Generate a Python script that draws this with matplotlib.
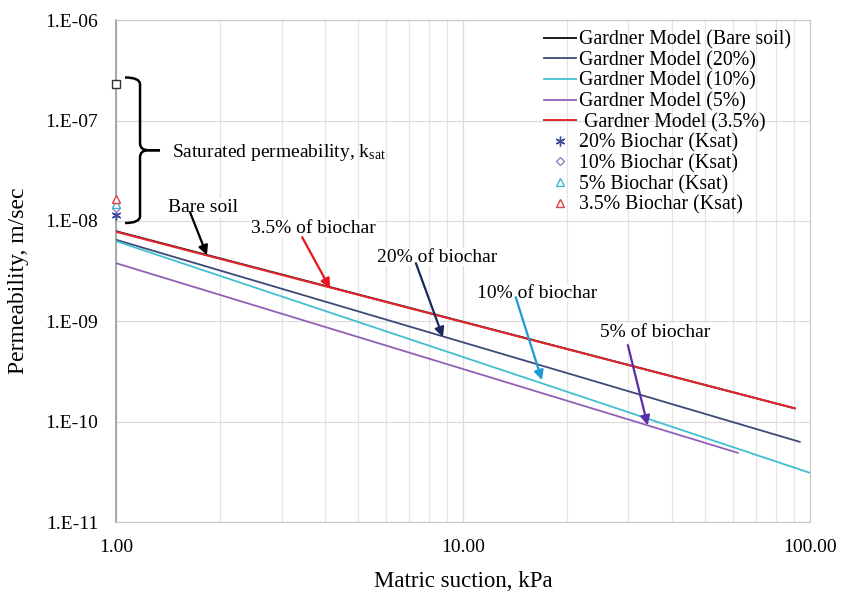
import matplotlib
matplotlib.use("Agg")
import matplotlib.pyplot as plt
from matplotlib.path import Path
from matplotlib.patches import PathPatch
from matplotlib.ticker import FixedLocator, LogLocator, NullFormatter

plt.rcParams['font.family'] = ['Liberation Serif', 'DejaVu Serif']
plt.rcParams['mathtext.fontset'] = 'stix'

# Gardner model lines (endpoints on log-log straight lines)
suction_bare = [1.0, 90.5]
perm_bare = [7.9e-9, 1.36e-10]
suction_20 = [1.0, 93.6]
perm_20 = [6.5e-9, 6.3e-11]
suction_10 = [1.0, 100.0]
perm_10 = [6.3e-9, 3.1e-11]
suction_5 = [1.0, 62.0]
perm_5 = [3.8e-9, 4.9e-11]
suction_35 = [1.0, 90.5]
perm_35 = [7.8e-9, 1.36e-10]

# Saturated permeability points at suction = 1 kPa
ksat_x = 1.0
ksat_bare = 2.3e-7
ksat_20 = 1.14e-8
ksat_10 = 1.34e-8
ksat_5 = 1.47e-8
ksat_35 = 1.65e-8

yticks = [1e-11, 1e-10, 1e-9, 1e-8, 1e-7, 1e-6]
ytick_labels = ['1.E-11', '1.E-10', '1.E-09', '1.E-08', '1.E-07', '1.E-06']
xticks = [1, 10, 100]
xtick_labels = ['1.00', '10.00', '100.00']

fig = plt.figure(figsize=(8.47, 5.96), dpi=100)
ax = fig.add_axes([0.137, 0.124, 0.819, 0.842])
ax.set_xscale('log')
ax.set_yscale('log')
ax.set_xlim(1, 100)
ax.set_ylim(1e-11, 1e-6)

c_bare = '#1a1a1a'
c_20 = '#3d4a78'
c_10 = '#3fc1d3'
c_5 = '#9160b8'
c_35 = '#e8252a'

ax.plot(suction_bare, perm_bare, color=c_bare, lw=1.4, label='Gardner Model (Bare soil)', zorder=3)
ax.plot(suction_20, perm_20, color=c_20, lw=1.3, label='Gardner Model (20%)', zorder=3)
ax.plot(suction_10, perm_10, color=c_10, lw=1.3, label='Gardner Model (10%)', zorder=3)
ax.plot(suction_5, perm_5, color=c_5, lw=1.3, label='Gardner Model (5%)', zorder=3)
ax.plot(suction_35, perm_35, color=c_35, lw=1.4, label=' Gardner Model (3.5%)', zorder=3.1)

ax.plot([ksat_x], [ksat_bare], ls='none', marker='s', mfc='white', mec='#333333', ms=6, mew=1, zorder=4, clip_on=False)
ax.plot([ksat_x], [ksat_20], ls='none', marker=(6, 2, 0), color='#3d4a9a', ms=7, mew=1, label='20% Biochar (Ksat)', zorder=4, clip_on=False)
ax.plot([ksat_x], [ksat_10], ls='none', marker='D', mfc='white', mec='#9d7cc2', ms=4.5, mew=1, label='10% Biochar (Ksat)', zorder=4, clip_on=False)
ax.plot([ksat_x], [ksat_5], ls='none', marker='^', mfc='white', mec='#3fb6cc', ms=6, mew=1, label='5% Biochar (Ksat)', zorder=4, clip_on=False)
ax.plot([ksat_x], [ksat_35], ls='none', marker='^', mfc='white', mec='#e04040', ms=6, mew=1, label='3.5% Biochar (Ksat)', zorder=4, clip_on=False)

# ticks and grid
ax.yaxis.set_major_locator(FixedLocator(yticks))
ax.yaxis.set_minor_locator(FixedLocator([]))
ax.set_yticklabels(ytick_labels)
ax.xaxis.set_major_locator(FixedLocator(xticks))
ax.xaxis.set_minor_locator(LogLocator(base=10, subs=range(2, 10)))
ax.xaxis.set_minor_formatter(NullFormatter())
ax.set_xticklabels(xtick_labels)
ax.tick_params(axis='both', which='both', length=0, labelsize=14)
ax.tick_params(axis='x', pad=12)
ax.tick_params(axis='y', pad=13)
ax.grid(True, which='major', color='#dcdcdc', lw=0.9)
ax.grid(True, which='minor', axis='x', color='#e4e4e4', lw=0.9)
ax.set_axisbelow(True)
for s in ax.spines.values():
    s.set_color('#c8c8c8')
ax.spines['left'].set_color('#9a9a9a')
ax.spines['left'].set_linewidth(1.2)

ax.set_xlabel('Matric suction, kPa', fontsize=16.5)
ax.xaxis.set_label_coords(0.5, -0.098)
ax.set_ylabel('Permeability, m/sec', fontsize=17)
ax.yaxis.set_label_coords(-0.126, 0.48)

leg = ax.legend(loc='upper right', bbox_to_anchor=(0.973, 0.98), frameon=False, fontsize=14.3,
                handlelength=1.6, handletextpad=0.15, labelspacing=0.07, borderaxespad=0.0,
                borderpad=0.0)

# brace (axes-fraction geometry)
bx0, bx1, bx2 = 0.013, 0.0346, 0.0634
ytop, ymid, ybot = 0.886, 0.741, 0.596
r = 0.014
codes = [Path.MOVETO, Path.CURVE3, Path.CURVE3, Path.LINETO, Path.CURVE3, Path.CURVE3, Path.LINETO]
for yend, sgn in ((ytop, -1), (ybot, 1)):
    verts = [
        (bx0, yend), (bx1, yend), (bx1, yend + sgn * r),
        (bx1, ymid - sgn * r), (bx1, ymid), (bx1 + 0.012, ymid), (bx2, ymid),
    ]
    ax.add_patch(PathPatch(Path(verts, codes), transform=ax.transAxes, fill=False,
                           lw=1.8, edgecolor='black', capstyle='butt', clip_on=False))

ax.text(1.45, 4.8e-8, 'Saturated permeability, k$_{\\mathregular{sat}}$', fontsize=14, va='center', ha='left')

# annotations: (text, text xy, arrow start, arrow tip, colour)
annots = [
    ('Bare soil', (1.78, 1.37e-8), (1.634, 1.225e-8), (1.829, 4.56e-9), 'black'),
    ('3.5% of biochar', (3.70, 8.48e-9), (3.44, 6.9e-9), (4.14, 2.14e-9), '#e8141b'),
    ('20% of biochar', (8.42, 4.36e-9), (7.32, 3.8e-9), (8.76, 6.97e-10), '#1b2a5a'),
    ('10% of biochar', (16.34, 1.91e-9), (14.2, 1.74e-9), (16.9, 2.6e-10), '#1c9ad6'),
    ('5% of biochar', (35.8, 7.8e-10), (29.9, 5.8e-10), (34.1, 9.2e-11), '#5a2ea6'),
]
for txt, txy, a0, a1, col in annots:
    ax.text(txy[0], txy[1], txt, fontsize=14, ha='center', va='center',
            bbox=dict(facecolor='white', edgecolor='none', pad=0.5), zorder=5)
    ax.annotate('', xy=a1, xytext=a0,
                arrowprops=dict(arrowstyle='-|>', color=col, lw=1.6, mutation_scale=14,
                                shrinkA=0, shrinkB=0), zorder=6)

fig.savefig('out.png', dpi=100)
